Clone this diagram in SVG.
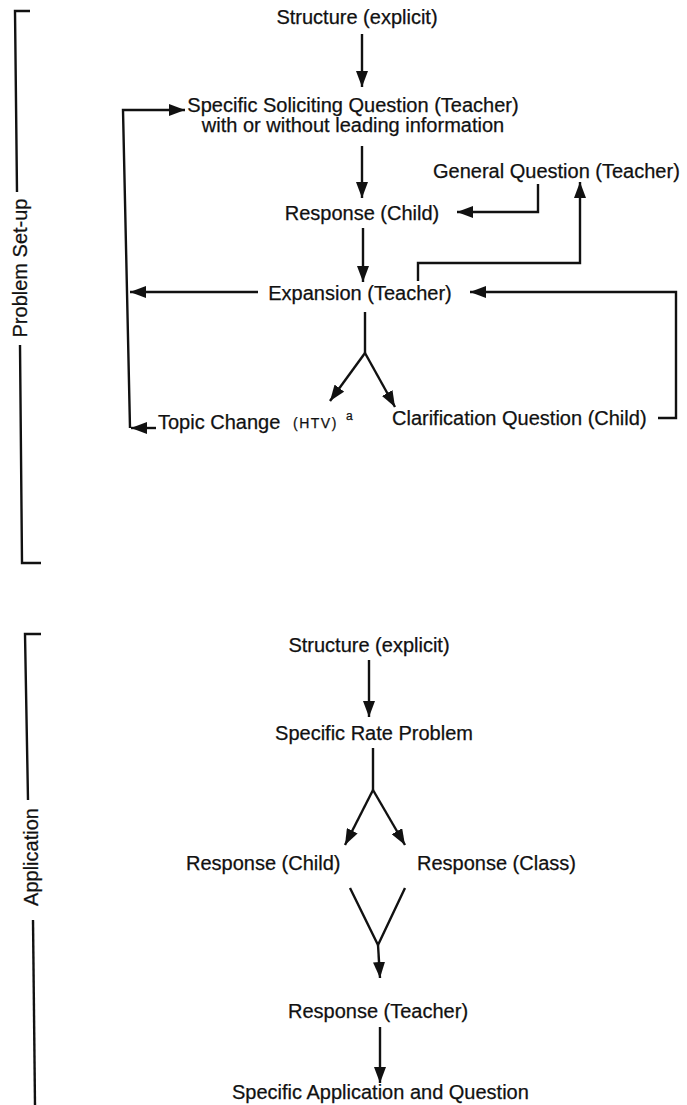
<svg xmlns="http://www.w3.org/2000/svg" width="687" height="1105" viewBox="0 0 687 1105">
<style>
text{font-family:"Liberation Sans",Arial,sans-serif;font-size:20px;fill:#111;stroke:#111;stroke-width:0.25}
.c{text-anchor:middle}
.ln{fill:none;stroke:#111;stroke-width:2.4;stroke-linejoin:miter}
.ar{fill:none;stroke:#111;stroke-width:2.4;marker-end:url(#ah)}
.sm{font-size:14px;letter-spacing:1.5px}
.sup{font-size:12px}
</style>
<defs>
<marker id="ah" markerUnits="userSpaceOnUse" markerWidth="18" markerHeight="12" refX="16" refY="6" orient="auto">
<path d="M0,0 L16,6 L0,12 Z" fill="#111"/>
</marker>
</defs>
<rect width="687" height="1105" fill="#fff"/>

<g id="brackets">
<path class="ln" d="M30,11 L15,11 L17,192"/>
<path class="ln" d="M20,345 L22,563 L41,563"/>
<text transform="translate(27,268) rotate(-90)" class="c">Problem Set-up</text>
<path class="ln" d="M41,634 L25,634 L28,800"/>
<path class="ln" d="M33,920 L35,1105"/>
<text transform="translate(38,857) rotate(-90)" class="c">Application</text>
</g>

<g id="connectors">
<path class="ar" d="M362,34 V87"/>
<path class="ar" d="M130,428 L123,110 H185"/>
<path class="ar" d="M362,146 V198"/>
<path class="ar" d="M538,184 V212 H457"/>
<path class="ar" d="M363,228 V282"/>
<path class="ar" d="M418,281 V263 H580 V182"/>
<path class="ar" d="M258,292 H130"/>
<path class="ar" d="M658,418 H676 V292 H470"/>
<path class="ln" d="M365,312 V353"/>
<path class="ar" d="M365,353 L330,401"/>
<path class="ar" d="M365,353 L395,407"/>
<path class="ar" d="M156,428 H131"/>
<path class="ar" d="M369,660 V717"/>
<path class="ln" d="M373,748 V790"/>
<path class="ar" d="M373,790 L345,845"/>
<path class="ar" d="M373,790 L405,845"/>
<path class="ln" d="M350,888 L378,945 L405,888"/>
<path class="ar" d="M378,945 L380,978"/>
<path class="ar" d="M380,1027 V1083"/>
</g>

<g id="n-structure1"><text x="357" y="24" class="c">Structure (explicit)</text></g>
<g id="n-specific-soliciting">
<text x="353" y="112" class="c">Specific Soliciting Question (Teacher)</text>
<text x="353" y="132" class="c">with or without leading information</text>
</g>
<g id="n-general-question"><text x="433" y="178">General Question (Teacher)</text></g>
<g id="n-response-child1"><text x="362" y="220" class="c">Response (Child)</text></g>
<g id="n-expansion"><text x="360" y="300" class="c">Expansion (Teacher)</text></g>
<g id="n-topic-change">
<text x="158" y="429">Topic Change</text>
<text x="293" y="428" class="sm">(HTV)</text>
<text x="346" y="420" class="sup">a</text>
</g>
<g id="n-clarification"><text x="392" y="425">Clarification Question (Child)</text></g>

<g id="n-structure2"><text x="369" y="652" class="c">Structure (explicit)</text></g>
<g id="n-rate-problem"><text x="374" y="740" class="c">Specific Rate Problem</text></g>
<g id="n-response-child2"><text x="186" y="870">Response (Child)</text></g>
<g id="n-response-class"><text x="417" y="870">Response (Class)</text></g>
<g id="n-response-teacher"><text x="378" y="1018" class="c">Response (Teacher)</text></g>
<g id="n-application"><text x="232" y="1099">Specific Application and Question</text></g>
</svg>
